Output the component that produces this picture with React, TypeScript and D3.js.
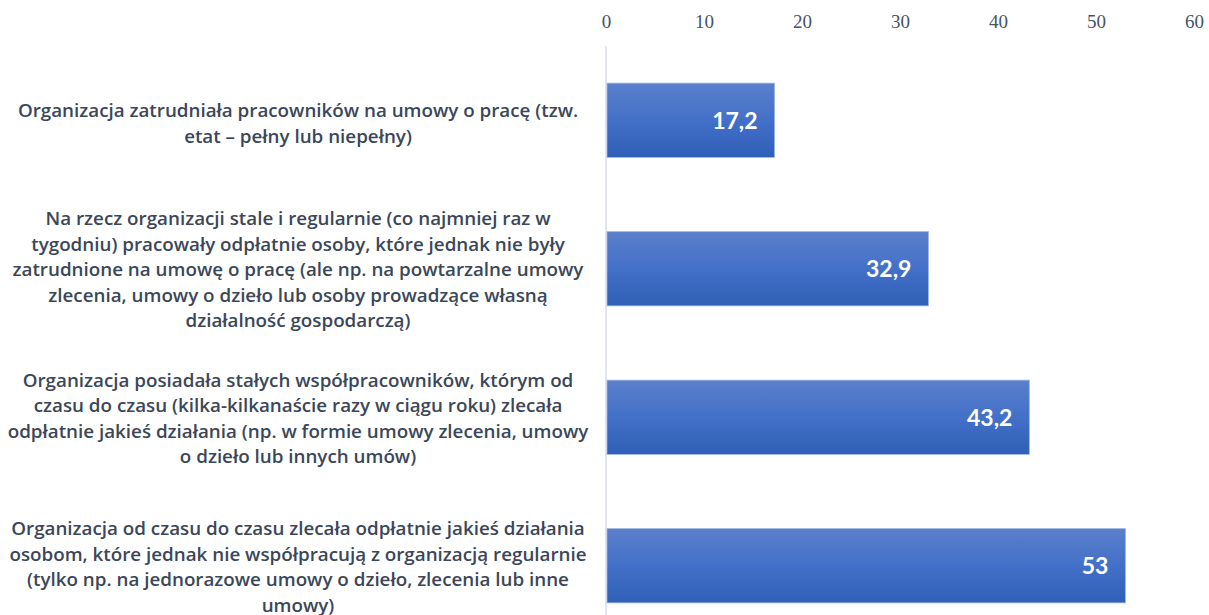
import React, { useRef, useEffect } from 'react';
import * as d3 from 'd3';

const categories = [
  'Organizacja zatrudniała pracowników na umowy o pracę (tzw. etat – pełny lub niepełny)',
  'Na rzecz organizacji stale i regularnie (co najmniej raz w tygodniu) pracowały odpłatnie osoby, które jednak nie były zatrudnione na umowę o pracę (ale np. na powtarzalne umowy zlecenia, umowy o dzieło lub osoby prowadzące własną działalność gospodarczą)',
  'Organizacja posiadała stałych współpracowników, którym od czasu do czasu (kilka-kilkanaście razy w ciągu roku) zlecała odpłatnie jakieś działania (np. w formie umowy zlecenia, umowy o dzieło lub innych umów)',
  'Organizacja od czasu do czasu zlecała odpłatnie jakieś działania osobom, które jednak nie współpracują z organizacją regularnie (tylko np. na jednorazowe umowy o dzieło, zlecenia lub inne umowy)',
];

const categoryLines = [
  ['Organizacja zatrudniała pracowników na umowy o pracę (tzw.', 'etat – pełny lub niepełny)'],
  [
    'Na rzecz organizacji stale i regularnie (co najmniej raz w',
    'tygodniu) pracowały odpłatnie osoby, które jednak nie były',
    'zatrudnione na umowę o pracę (ale np. na powtarzalne umowy',
    'zlecenia, umowy o dzieło lub osoby prowadzące własną',
    'działalność gospodarczą)',
  ],
  [
    'Organizacja posiadała stałych współpracowników, którym od',
    'czasu do czasu (kilka-kilkanaście razy w ciągu roku) zlecała',
    'odpłatnie jakieś działania (np. w formie umowy zlecenia, umowy',
    'o dzieło lub innych umów)',
  ],
  [
    'Organizacja od czasu do czasu zlecała odpłatnie jakieś działania',
    'osobom, które jednak nie współpracują z organizacją regularnie',
    '(tylko np. na jednorazowe umowy o dzieło, zlecenia lub inne',
    'umowy)',
  ],
];

const values = [17.2, 32.9, 43.2, 53];
const valueLabels = ['17,2', '32,9', '43,2', '53'];
const tickValues = [0, 10, 20, 30, 40, 50, 60];

const App = () => {
  const ref = useRef<SVGSVGElement>(null);

  useEffect(() => {
    if (!ref.current) return;
    const svg = d3.select(ref.current);
    svg.selectAll('*').remove();

    const width = 1209;
    const height = 615;

    const x = d3.scaleLinear().domain([0, 60]).range([606, 1194]);
    const y = d3.scaleBand<number>()
      .domain(d3.range(categories.length))
      .range([46, 640])
      .paddingInner(0.5)
      .paddingOuter(0.25);

    svg.attr('width', width).attr('height', height);

    const defs = svg.append('defs');
    const grad = defs.append('linearGradient')
      .attr('id', 'barGrad')
      .attr('x1', 0).attr('y1', 0).attr('x2', 0).attr('y2', 1);
    grad.append('stop').attr('offset', '0%').attr('stop-color', '#5b80cc');
    grad.append('stop').attr('offset', '50%').attr('stop-color', '#4370c8');
    grad.append('stop').attr('offset', '100%').attr('stop-color', '#2f5fb6');

    // top axis labels
    const axis = svg.append('g')
      .attr('transform', 'translate(0,28)')
      .call(d3.axisTop(x).tickValues(tickValues).tickSize(0).tickPadding(0).tickFormat(d3.format('d')));
    axis.select('.domain').remove();
    axis.selectAll('text')
      .attr('font-family', '"Liberation Serif", "DejaVu Serif", serif')
      .attr('font-size', 19)
      .attr('fill', '#44546a');

    // vertical baseline
    svg.append('line')
      .attr('x1', x(0)).attr('x2', x(0))
      .attr('y1', 46).attr('y2', height)
      .attr('stroke', '#d9dce6')
      .attr('stroke-width', 1.5);

    svg.selectAll('.bar')
      .data(values)
      .enter().append('rect')
      .attr('class', 'bar')
      .attr('x', x(0) + 1)
      .attr('y', (_, i) => y(i)!)
      .attr('width', d => x(d) - x(0) - 1)
      .attr('height', y.bandwidth())
      .attr('fill', 'url(#barGrad)')
      .attr('stroke', '#9fb5e2')
      .attr('stroke-width', 0.8);

    svg.selectAll('.val')
      .data(values)
      .enter().append('text')
      .attr('class', 'val')
      .attr('x', d => x(d) - 17)
      .attr('y', (_, i) => y(i)! + y.bandwidth() / 2)
      .attr('dy', '0.36em')
      .attr('text-anchor', 'end')
      .attr('font-family', 'Lato, "Open Sans", sans-serif')
      .attr('font-weight', 'bold')
      .attr('font-size', 23)
      .attr('fill', '#ffffff')
      .text((_, i) => valueLabels[i]);

    const lineH = 25.5;
    const labels = svg.selectAll('.cat')
      .data(categoryLines)
      .enter().append('text')
      .attr('class', 'cat')
      .attr('text-anchor', 'middle')
      .attr('font-family', '"Open Sans", Lato, sans-serif')
      .attr('font-weight', 600)
      .attr('font-size', 18.8)
      .attr('fill', '#3b4759');

    labels.each(function (lines, i) {
      const cy = y(i)! + y.bandwidth() / 2 + (i === 0 ? 3 : 1);
      const start = cy - ((lines.length - 1) * lineH) / 2;
      d3.select(this).selectAll('tspan')
        .data(lines)
        .enter().append('tspan')
        .attr('x', 298)
        .attr('y', (_, j) => start + j * lineH)
        .attr('dy', '0.35em')
        .text(d => d);
    });
  }, []);

  return (
    <svg ref={ref} style={{ position: 'absolute', left: 0, top: 0, background: '#fff' }} />
  );
};

export default App;
